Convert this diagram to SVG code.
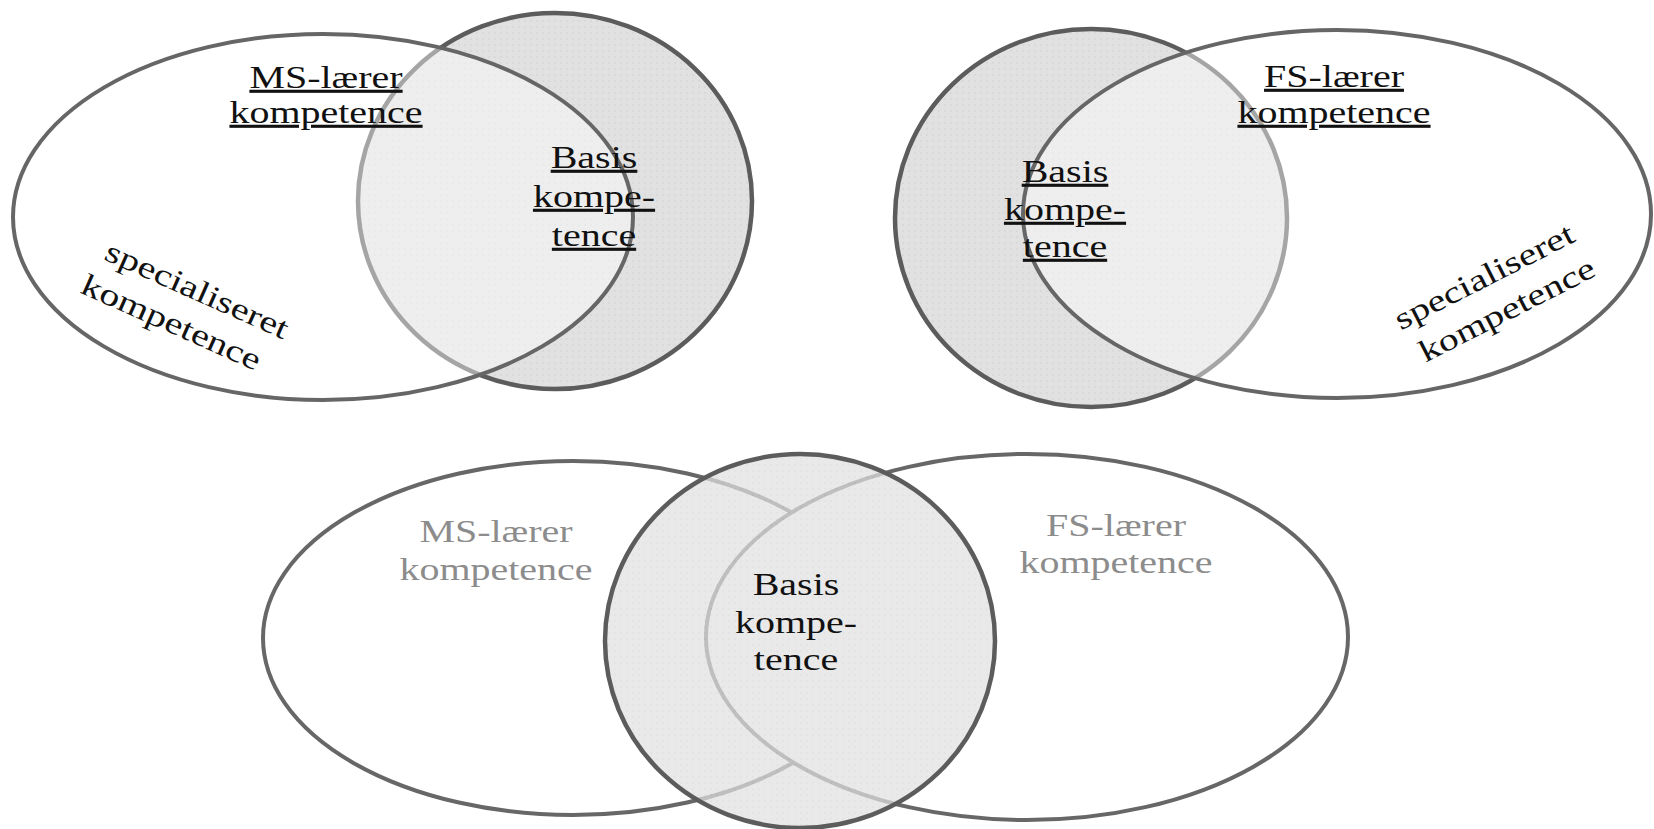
<svg xmlns="http://www.w3.org/2000/svg" width="1654" height="829" viewBox="0 0 1654 829">
<defs>
<pattern id="dots" width="6" height="6" patternUnits="userSpaceOnUse">
<rect width="6" height="6" fill="#e1e1e1"/>
<circle cx="3" cy="3" r="0.7" fill="#cdcdcd"/>
</pattern>
<style>
.basis{fill:url(#dots);stroke:#5c5c5c;stroke-width:4.5}
.basisT{fill:url(#dots);fill-opacity:0.72;stroke:#5c5c5c;stroke-width:4.5}
.white{fill:#ffffff;fill-opacity:0.45;stroke:#666666;stroke-width:4}
.whiteB{fill:#ffffff;stroke:#676767;stroke-width:4}
text{font-family:"Liberation Serif","Times New Roman",serif;font-size:31px;text-anchor:middle;fill:#111}
.u{text-decoration:underline;text-decoration-thickness:2.5px;text-underline-offset:4px}
.g{fill:#8c8c8c}
</style>
</defs>
<rect width="1654" height="829" fill="#ffffff"/>

<g id="top-left">
<g id="tl-basis-shape"><ellipse class="basis" cx="555" cy="201" rx="197" ry="188"/></g>
<g id="tl-ms-shape"><ellipse class="white" cx="323" cy="217" rx="310" ry="183"/></g>
</g>
<g id="top-right">
<g id="tr-basis-shape"><ellipse class="basis" cx="1091" cy="218" rx="196" ry="189"/></g>
<g id="tr-fs-shape"><ellipse class="white" cx="1337" cy="214" rx="314" ry="184"/></g>
</g>
<g id="bottom">
<g id="b-ms-shape"><ellipse class="whiteB" cx="573" cy="638" rx="310" ry="177"/></g>
<g id="b-fs-shape"><ellipse class="whiteB" cx="1027" cy="637" rx="321" ry="183"/></g>
<g id="b-basis-shape"><ellipse class="basisT" cx="800" cy="641" rx="195" ry="187"/></g>
</g>

<g id="connectors"></g>

<g id="tl-ms-label">
<g transform="translate(326 88) scale(1.29 1)"><text class="u" x="0" y="0">MS-lærer</text></g>
<g transform="translate(326 123) scale(1.29 1)"><text class="u" x="0" y="0">kompetence</text></g>
</g>
<g id="tl-basis-label">
<g transform="translate(594 168) scale(1.29 1)"><text class="u">Basis</text></g>
<g transform="translate(594 207) scale(1.29 1)"><text class="u">kompe-</text></g>
<g transform="translate(594 246) scale(1.29 1)"><text class="u">tence</text></g>
</g>
<g id="tl-special-label" transform="translate(183 309) rotate(24) scale(1.29 1)">
<text x="4" y="-13">specialiseret</text>
<text x="-4" y="27">kompetence</text>
</g>

<g id="tr-fs-label">
<g transform="translate(1334 87) scale(1.29 1)"><text class="u">FS-lærer</text></g>
<g transform="translate(1334 123) scale(1.29 1)"><text class="u">kompetence</text></g>
</g>
<g id="tr-basis-label">
<g transform="translate(1065 182) scale(1.29 1)"><text class="u">Basis</text></g>
<g transform="translate(1065 220) scale(1.29 1)"><text class="u">kompe-</text></g>
<g transform="translate(1065 257) scale(1.29 1)"><text class="u">tence</text></g>
</g>
<g id="tr-special-label" transform="translate(1497 296) rotate(-27) scale(1.29 1)">
<text x="-2" y="-13">specialiseret</text>
<text x="2" y="27">kompetence</text>
</g>

<g id="b-ms-label">
<g transform="translate(496 542) scale(1.29 1)"><text class="g">MS-lærer</text></g>
<g transform="translate(496 580) scale(1.29 1)"><text class="g">kompetence</text></g>
</g>
<g id="b-fs-label">
<g transform="translate(1116 536) scale(1.29 1)"><text class="g">FS-lærer</text></g>
<g transform="translate(1116 573) scale(1.29 1)"><text class="g">kompetence</text></g>
</g>
<g id="b-basis-label">
<g transform="translate(796 595) scale(1.29 1)"><text>Basis</text></g>
<g transform="translate(796 633) scale(1.29 1)"><text>kompe-</text></g>
<g transform="translate(796 670) scale(1.29 1)"><text>tence</text></g>
</g>
</svg>
